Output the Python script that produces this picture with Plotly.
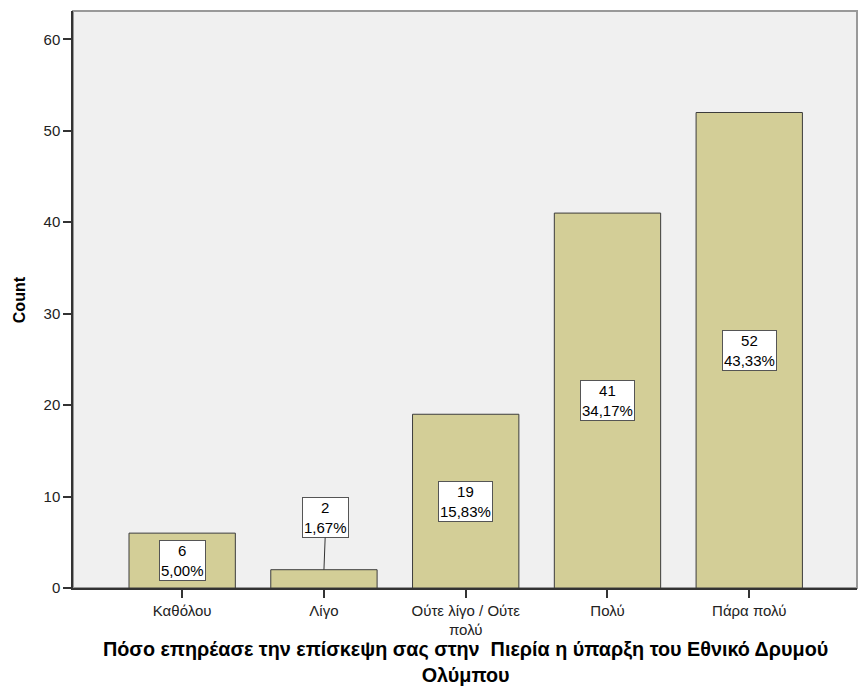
import plotly.graph_objects as go

categories = ["Καθόλου", "Λίγο", "Ούτε λίγο / Ούτε<br>πολύ", "Πολύ", "Πάρα πολύ"]
counts = [6, 2, 19, 41, 52]
percents = ["5,00%", "1,67%", "15,83%", "34,17%", "43,33%"]
y_ticks = [0, 10, 20, 30, 40, 50, 60]

x_title = "Πόσο επηρέασε την επίσκεψη σας στην  Πιερία η ύπαρξη του Εθνικό Δρυμού<br>Ολύμπου"
y_title = "Count"

FONT = "Liberation Sans, Arial, sans-serif"

fig = go.Figure()
fig.add_trace(go.Bar(
    x=list(range(len(categories))), y=counts, width=0.75,
    marker=dict(color="#D3CE97", line=dict(color="#3C3C3C", width=1)),
    hoverinfo="skip",
))

annotations = []
for i, (c, p) in enumerate(zip(counts, percents)):
    txt = f"{c}<br>{p}"
    common = dict(xref="x", yref="y", text=txt,
                  bgcolor="white", bordercolor="#555555", borderwidth=1, borderpad=1,
                  font=dict(family=FONT, size=15, color="black"), align="center")
    if c < 4:
        annotations.append(dict(x=i, y=c, showarrow=True, arrowhead=0, arrowwidth=1,
                                arrowcolor="#333333", ax=2, ay=-52, **common))
    else:
        annotations.append(dict(x=i, y=c / 2, showarrow=False, **common))

H = 689
T, B = 11, 101
plot_h = H - T - B

def py(pix):
    return (H - B - pix) / plot_h

annotations.append(dict(
    x=0.5, y=py(662), xref="paper", yref="paper", text=f"<b>{x_title}</b>",
    showarrow=False, xanchor="center", yanchor="middle", align="center",
    font=dict(family=FONT, size=19.8, color="black"),
))
annotations.append(dict(
    x=-0.068, y=0.5, xref="paper", yref="paper", text=f"<b>{y_title}</b>",
    showarrow=False, textangle=-90, xanchor="center", yanchor="middle",
    font=dict(family=FONT, size=16, color="black"),
))

fig.update_layout(
    width=859, height=H,
    margin=dict(l=73, r=2, t=T, b=B),
    paper_bgcolor="white", plot_bgcolor="#F0F0F0",
    showlegend=False,
    annotations=annotations,
    shapes=[dict(type="rect", xref="paper", yref="paper", x0=0, y0=0, x1=1, y1=1,
                 line=dict(color="#999999", width=2), layer="below")],
    font=dict(family=FONT, size=15, color="#222222"),
)
fig.update_xaxes(
    range=[-0.77, 4.76], tickvals=list(range(len(categories))), ticktext=categories,
    showgrid=False, zeroline=False, showline=True, linecolor="#333333", linewidth=1.5,
    ticks="outside", ticklen=8, tickcolor="#333333", tickwidth=1.5,
    tickfont=dict(family=FONT, size=15, color="#222222"),
)
fig.update_yaxes(
    range=[0, 63.1], tickvals=y_ticks,
    showgrid=False, zeroline=False, showline=True, linecolor="#333333", linewidth=1.5,
    ticks="outside", ticklen=8, tickcolor="#333333", tickwidth=1.5,
    tickfont=dict(family=FONT, size=15, color="#222222"),
)

fig.write_html("out.html", config={"displayModeBar": False},
               post_script="document.body.style.margin='0';document.body.style.padding='0';")
